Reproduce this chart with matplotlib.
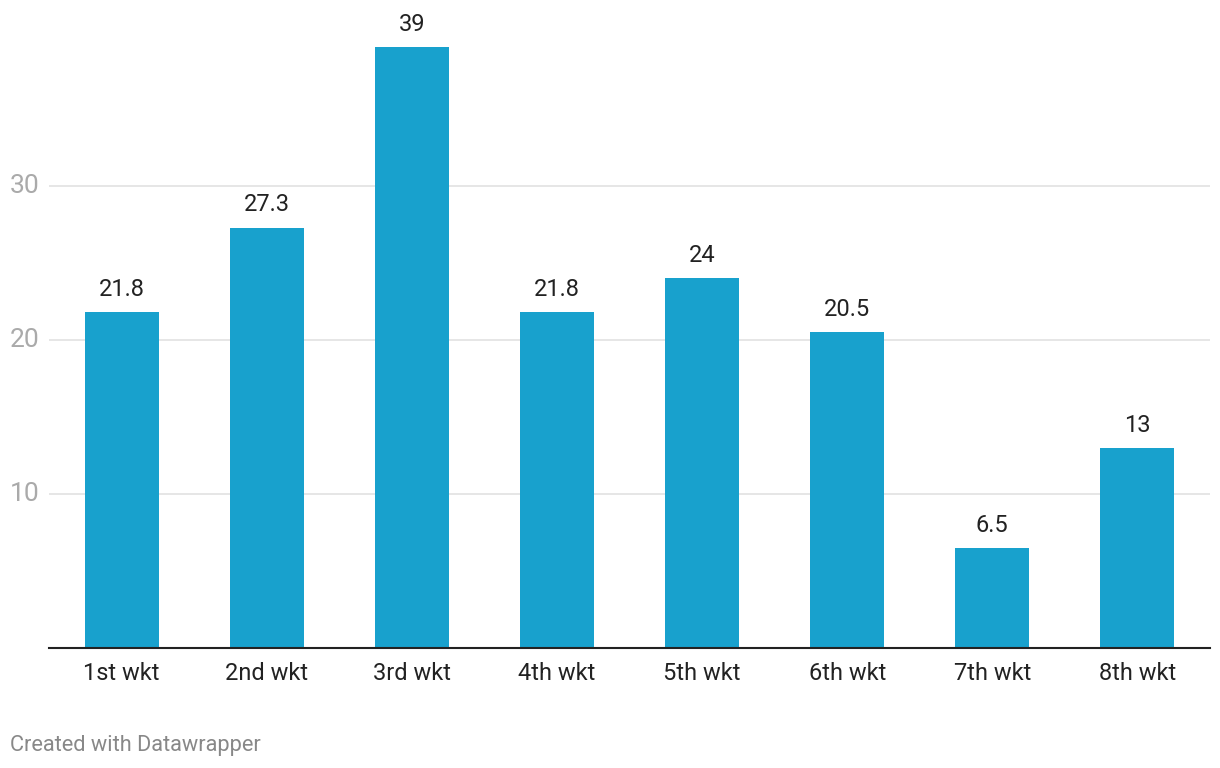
import matplotlib.pyplot as plt
import matplotlib.transforms as mtransforms

categories = ["1st wkt", "2nd wkt", "3rd wkt", "4th wkt", "5th wkt", "6th wkt", "7th wkt", "8th wkt"]
values = [21.8, 27.3, 39, 21.8, 24, 20.5, 6.5, 13]
labels = ["21.8", "27.3", "39", "21.8", "24", "20.5", "6.5", "13"]
yticks = [10, 20, 30]

plt.rcParams["font.family"] = ["Roboto", "DejaVu Sans"]

fig = plt.figure(figsize=(12.2, 7.68), dpi=100)
ax = fig.add_axes([49 / 1220, 1 - 648 / 768, 1161 / 1220, (648 - 47.4) / 768])

x = range(len(categories))
ax.bar(x, values, width=0.51, color="#18a1cd", zorder=2)

# value labels above bars
for i, v in enumerate(values):
    ax.annotate(labels[i], (i, v), xytext=(0, 8), textcoords="offset points",
                ha="center", va="bottom", fontsize=17, color="#222222")

ax.set_xlim(-0.5, len(categories) - 0.5)
ax.set_ylim(0, 39)
ax.set_yticks(yticks)
ax.set_yticklabels([])
ax.grid(axis="y", color="#e2e2e2", linewidth=1.2, zorder=0)
ax.set_xticks(list(x))
ax.set_xticklabels(categories, fontsize=17, color="#222222")

# y labels sit left of the gridlines
trans = mtransforms.blended_transform_factory(fig.transFigure, ax.transData)
for t in yticks:
    fig.text(10 / 1220, t, str(t), transform=trans, fontsize=19,
             color="#aaaaaa", ha="left", va="center")

for s in ["top", "right", "left"]:
    ax.spines[s].set_visible(False)
ax.spines["bottom"].set_color("#222222")
ax.spines["bottom"].set_linewidth(1.5)
ax.spines["bottom"].set_zorder(3)

ax.tick_params(axis="x", length=0, pad=10)
ax.tick_params(axis="y", length=0)

fig.text(10 / 1220, 1 - 746 / 768, "Created with Datawrapper", fontsize=15.7,
         color="#888888", ha="left", va="center")

plt.savefig("out.png", dpi=100)
plt.close()
